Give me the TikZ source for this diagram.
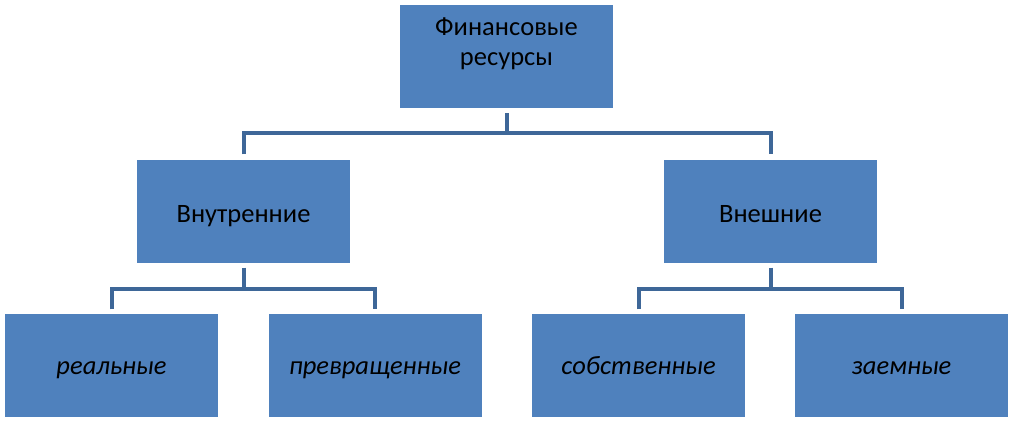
\documentclass[tikz,border=0pt]{standalone}
\usepackage{fontspec}
\setmainfont{Carlito}
\definecolor{boxfill}{RGB}{79,129,189}
\definecolor{connc}{RGB}{62,103,152}
\tikzset{
  box/.style={draw=none, fill=boxfill, minimum width=213pt, minimum height=103pt, inner sep=0pt, font=\fontsize{26.5}{30}\selectfont, text=black, align=center, text height=22pt, text depth=0pt},
  ibox/.style={box, font=\fontsize{26.5}{30}\selectfont\itshape, text height=18pt},
  conn/.style={draw=connc, line width=4pt}
}
\begin{document}
\begin{tikzpicture}[x=1pt,y=-1pt]
\useasboundingbox (0,0) rectangle (1013,421);
\node[box, label={[yshift=13pt, font=\fontsize{26.5}{30}\selectfont, align=center]center:Финансовые\\ресурсы}] (top) at (506.5,56.5) {};
\node[box] (midL) at (243.5,211) {Внутренние};
\node[box] (midR) at (770.5,211) {Внешние};
\node[ibox] (b1) at (111.5,365) {реальные};
\node[ibox] (b2) at (375,365) {превращенные};
\node[ibox] (b3) at (638.5,365) {собственные};
\node[ibox] (b4) at (901.5,365) {заемные};
\coordinate (t1) at ([yshift=-25pt]top.south);
\coordinate (l1) at ([yshift=-26pt]midL.south);
\coordinate (r1) at ([yshift=-26pt]midR.south);
\draw[conn] ([yshift=-5pt]top.south) -- (t1);
\draw[conn] ([yshift=5pt]midL.north) |- (t1) -| ([yshift=5pt]midR.north);
\draw[conn] ([yshift=-5pt]midL.south) -- (l1);
\draw[conn] ([yshift=4pt]b1.north) |- (l1) -| ([yshift=4pt]b2.north);
\draw[conn] ([yshift=-5pt]midR.south) -- (r1);
\draw[conn] ([yshift=4pt]b3.north) |- (r1) -| ([yshift=4pt]b4.north);
\end{tikzpicture}
\end{document}
